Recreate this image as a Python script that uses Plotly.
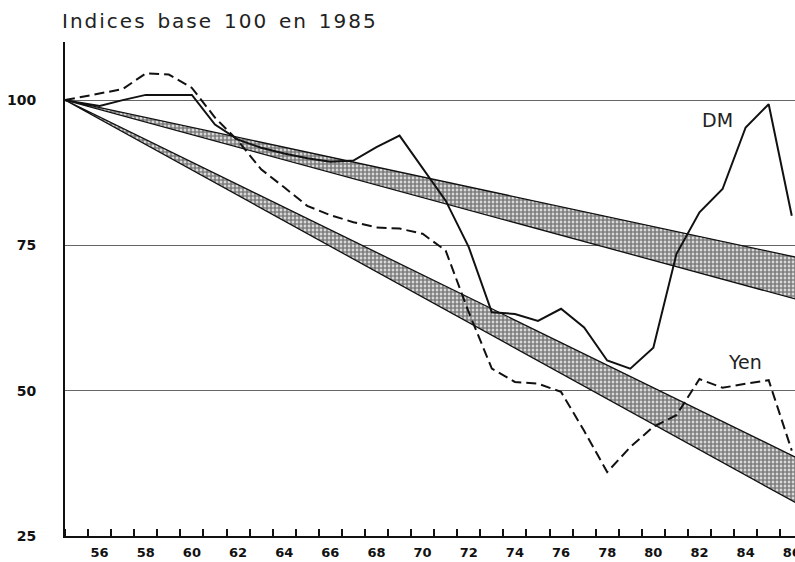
import plotly.graph_objects as go

# ---- data (annual values, plotted at mid-year; base 100 at start of 1955) ----
base_year = 1955
base_value = 100
years = list(range(1956, 1987))
dm = [99.0, 100.0, 100.9, 100.9, 100.9, 95.8, 93.2, 91.8, 90.8, 90.0,
      89.4, 89.6, 91.9, 93.9, 88.4, 82.7, 74.7, 63.5, 63.2, 62.0,
      64.1, 60.9, 55.2, 53.8, 57.4, 73.5, 80.7, 84.7, 95.3, 99.3, 80.1]
yen = [101.2, 101.9, 104.6, 104.4, 102.1, 97.0, 93.0, 88.1, 85.0, 81.8,
       80.2, 79.0, 78.1, 77.9, 77.0, 74.1, 63.5, 53.8, 51.5, 51.2,
       49.8, 43.1, 36.0, 40.3, 43.8, 45.8, 52.0, 50.5, 51.2, 51.8, 39.7]

# trend bands: start at base, end values in 1987 (run off the chart)
band_years = [1955, 1987]
upper_band_top = [100, 72.7]
upper_band_bottom = [100, 65.4]
lower_band_top = [100, 37.9]
lower_band_bottom = [100, 30.0]

x_label_years = list(range(1956, 1987, 2))
x_tick_labels = [str(y)[2:] for y in x_label_years]
y_ticks = [25, 50, 75, 100]
y_tick_labels = ["25", "50", "75", "100"]

title_text = "Indices base 100 en 1985"
label_dm = "DM"
label_yen = "Yen"

# ---- figure ----
pos = [base_year] + [y + 0.5 for y in years]
fig = go.Figure()

def band(top, bottom):
    xs = band_years + band_years[::-1]
    ys = top + bottom[::-1]
    fig.add_trace(go.Scatter(
        x=xs, y=ys, mode="lines", fill="toself",
        fillcolor="rgba(0,0,0,0)",
        fillpattern=dict(shape=".", fgcolor="#000000", bgcolor="#ffffff",
                         size=4, solidity=0.75),
        line=dict(color="#111111", width=1.3),
        hoverinfo="skip", showlegend=False))

band(upper_band_top, upper_band_bottom)
band(lower_band_top, lower_band_bottom)

fig.add_trace(go.Scatter(
    x=pos, y=[base_value] + dm, mode="lines", name=label_dm,
    line=dict(color="#111111", width=2), showlegend=False))
fig.add_trace(go.Scatter(
    x=pos, y=[base_value] + yen, mode="lines", name=label_yen,
    line=dict(color="#111111", width=2, dash="10px,5px"), showlegend=False))

fig.add_annotation(x=1983.26, y=96.5, text=label_dm, showarrow=False,
                   font=dict(family="DejaVu Sans", size=19, color="#222222"),
                   xanchor="center", yanchor="middle")
fig.add_annotation(x=1984.48, y=55.0, text=label_yen, showarrow=False,
                   font=dict(family="DejaVu Sans", size=19, color="#222222"),
                   xanchor="center", yanchor="middle")

x_range = [1955, 1986.64]

fig.update_layout(
    width=795, height=562,
    margin=dict(l=65, r=0, t=42, b=26, autoexpand=False),
    paper_bgcolor="white", plot_bgcolor="white",
    showlegend=False,
    title=dict(text=title_text, xref="container", yref="container",
               x=62 / 795, y=1 - 21 / 562, xanchor="left", yanchor="middle",
               font=dict(family="DejaVu Sans", size=20, color="#222222")),
    xaxis=dict(
        range=x_range, showgrid=False, zeroline=False, automargin=False,
        showline=True, linecolor="#111111", linewidth=1.5,
        tickmode="array", tickvals=[y + 0.5 for y in x_label_years],
        ticktext=x_tick_labels, ticks="",
        ticklabelstandoff=4, ticklabeloverflow="allow",
        tickfont=dict(family="DejaVu Sans", size=13, color="#111111", weight="bold"),
        minor=dict(tickmode="linear", tick0=base_year, dtick=1, ticks="inside",
                   ticklen=7, tickwidth=1.5, tickcolor="#111111", showgrid=False),
    ),
    xaxis2=dict(
        range=x_range, overlaying="x", side="top", showgrid=False,
        zeroline=False, showline=True, linecolor="#555555", linewidth=1,
        showticklabels=False, ticks="", automargin=False,
    ),
    yaxis=dict(
        range=[25, 110], tickmode="array", tickvals=y_ticks, ticktext=y_tick_labels,
        showgrid=True, gridcolor="#666666", gridwidth=1, zeroline=False,
        showline=True, linecolor="#111111", linewidth=2, ticks="",
        ticklabelstandoff=24, automargin=False,
        tickfont=dict(family="DejaVu Sans", size=14, color="#111111", weight="bold"),
    ),
)

post = ("document.body.style.margin='0';document.body.style.overflow='hidden';"
        "var t=document.querySelectorAll('.gtitle');"
        "t.forEach(function(e){e.style.letterSpacing='2px';e.style.wordSpacing='2.5px';});")
fig.write_html("out.html", post_script=post, config={"displayModeBar": False})
